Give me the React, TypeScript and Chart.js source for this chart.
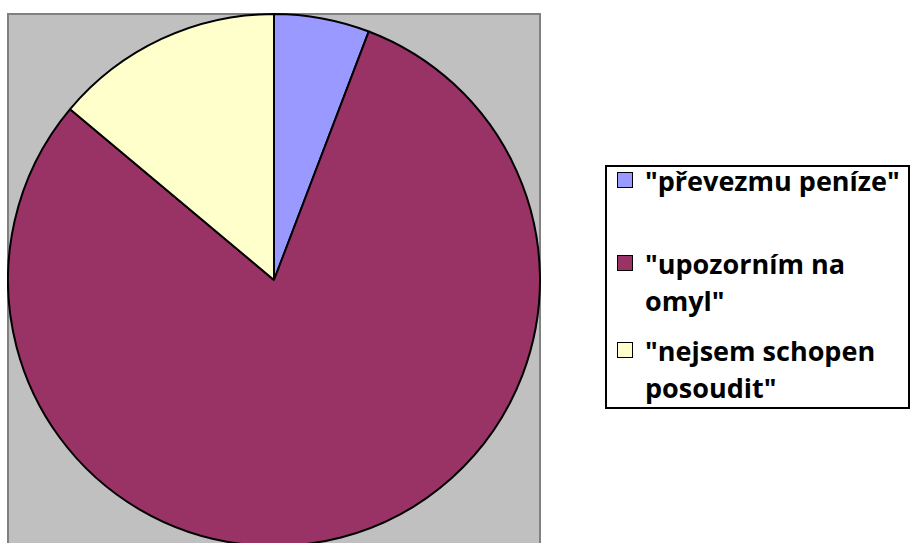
import React, { useEffect, useRef } from "react";
import { Chart, registerables } from "chart.js";

Chart.register(...registerables);

const labels = ['"převezmu peníze"', '"upozorním na omyl"', '"nejsem schopen posoudit"'];
const values = [5.8, 80.3, 13.9];
const colors = ["#9999FF", "#993366", "#FFFFCC"];

const legendTops = [162, 245, 332];

export default function App() {
  const canvasRef = useRef<HTMLCanvasElement | null>(null);

  useEffect(() => {
    if (!canvasRef.current) return;
    const chart = new Chart(canvasRef.current, {
      type: "pie",
      data: {
        labels,
        datasets: [
          {
            data: values,
            backgroundColor: colors,
            borderColor: "#000000",
            borderWidth: 2,
          },
        ],
      },
      options: {
        animation: false,
        responsive: true,
        maintainAspectRatio: false,
        radius: 266,
        layout: { padding: 0 },
        plugins: {
          legend: { display: false },
          tooltip: { enabled: false },
        },
      },
    });
    return () => chart.destroy();
  }, []);

  return (
    <div
      style={{
        position: "fixed",
        left: 0,
        top: 0,
        width: 911,
        height: 543,
        overflow: "hidden",
        background: "#ffffff",
      }}
    >
      <div
        style={{
          position: "absolute",
          left: 7,
          top: 13,
          width: 530,
          height: 600,
          background: "#C0C0C0",
          border: "2px solid #808080",
        }}
      />
      <div style={{ position: "absolute", left: 7, top: 13, width: 534, height: 534 }}>
        <canvas ref={canvasRef} />
      </div>
      <div
        style={{
          position: "absolute",
          left: 605,
          top: 165,
          width: 301,
          height: 240,
          border: "2px solid #000",
          background: "#fff",
          fontFamily: "'Open Sans', sans-serif",
          fontWeight: 700,
          fontSize: 27,
          lineHeight: "37px",
          color: "#000",
        }}
      >
        {labels.map((l, i) => (
          <div
            key={i}
            style={{ position: "absolute", left: 10, top: legendTops[i] - 165 - 2, display: "flex" }}
          >
            <div
              style={{
                width: 14,
                height: 14,
                marginTop: 10,
                background: colors[i],
                border: "1.5px solid #000",
                flex: "none",
              }}
            />
            <div style={{ marginLeft: 12, width: 262, whiteSpace: "normal" }}>{l}</div>
          </div>
        ))}
      </div>
    </div>
  );
}
